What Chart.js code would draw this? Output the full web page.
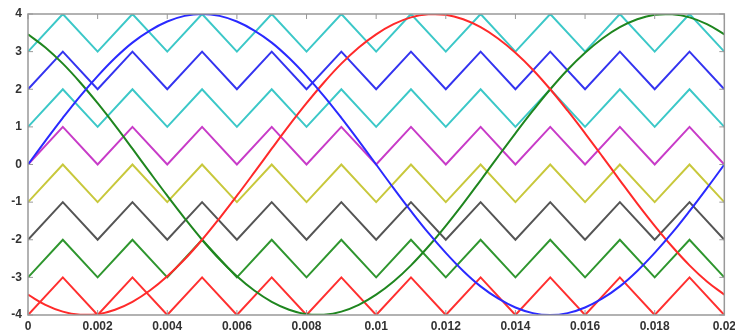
<!DOCTYPE html>
<html>
<head>
<meta charset="utf-8">
<script src="https://cdn.jsdelivr.net/npm/chart.js@4.4.1/dist/chart.umd.min.js"></script>
<style>
  html, body { margin: 0; padding: 0; background: #fff; overflow: hidden; }
  #wrap { width: 735px; height: 335px; overflow: hidden; }
</style>
</head>
<body>
<div id="wrap"><canvas id="c" width="740" height="335"></canvas></div>
<script>
// time axis for the reference sines (every 0.0005 s)
var sineTime = [0, 0.0005, 0.001, 0.0015, 0.002, 0.0025, 0.003, 0.0035, 0.004, 0.0045,
  0.005, 0.0055, 0.006, 0.0065, 0.007, 0.0075, 0.008, 0.0085, 0.009, 0.0095,
  0.01, 0.0105, 0.011, 0.0115, 0.012, 0.0125, 0.013, 0.0135, 0.014, 0.0145,
  0.015, 0.0155, 0.016, 0.0165, 0.017, 0.0175, 0.018, 0.0185, 0.019, 0.0195, 0.02];

var refBlue = [0, 0.63, 1.24, 1.82, 2.35, 2.83, 3.24, 3.56, 3.80, 3.95,
  4.00, 3.95, 3.80, 3.56, 3.24, 2.83, 2.35, 1.82, 1.24, 0.63,
  0, -0.63, -1.24, -1.82, -2.35, -2.83, -3.24, -3.56, -3.80, -3.95,
  -4.00, -3.95, -3.80, -3.56, -3.24, -2.83, -2.35, -1.82, -1.24, -0.63, 0];

var refRed = [-3.46, -3.73, -3.91, -3.99, -3.98, -3.86, -3.65, -3.35, -2.97, -2.52,
  -2.00, -1.43, -0.83, -0.21, 0.42, 1.04, 1.63, 2.18, 2.68, 3.11,
  3.46, 3.73, 3.91, 3.99, 3.98, 3.86, 3.65, 3.35, 2.97, 2.52,
  2.00, 1.43, 0.83, 0.21, -0.42, -1.04, -1.63, -2.18, -2.68, -3.11, -3.46];

var refGreen = [3.46, 3.11, 2.68, 2.18, 1.63, 1.04, 0.42, -0.21, -0.83, -1.43,
  -2.00, -2.52, -2.97, -3.35, -3.65, -3.86, -3.98, -3.99, -3.91, -3.73,
  -3.46, -3.11, -2.68, -2.18, -1.63, -1.04, -0.42, 0.21, 0.83, 1.43,
  2.00, 2.52, 2.97, 3.35, 3.65, 3.86, 3.98, 3.99, 3.91, 3.73, 3.46];

// carrier vertices (every 0.001 s)
var carrierTime = [0, 0.001, 0.002, 0.003, 0.004, 0.005, 0.006, 0.007, 0.008, 0.009, 0.01,
  0.011, 0.012, 0.013, 0.014, 0.015, 0.016, 0.017, 0.018, 0.019, 0.02];

var carrier1 = [3, 4, 3, 4, 3, 4, 3, 4, 3, 4, 3, 4, 3, 4, 3, 4, 3, 4, 3, 4, 3];
var carrier2 = [2, 3, 2, 3, 2, 3, 2, 3, 2, 3, 2, 3, 2, 3, 2, 3, 2, 3, 2, 3, 2];
var carrier3 = [1, 2, 1, 2, 1, 2, 1, 2, 1, 2, 1, 2, 1, 2, 1, 2, 1, 2, 1, 2, 1];
var carrier4 = [0, 1, 0, 1, 0, 1, 0, 1, 0, 1, 0, 1, 0, 1, 0, 1, 0, 1, 0, 1, 0];
var carrier5 = [-1, 0, -1, 0, -1, 0, -1, 0, -1, 0, -1, 0, -1, 0, -1, 0, -1, 0, -1, 0, -1];
var carrier6 = [-2, -1, -2, -1, -2, -1, -2, -1, -2, -1, -2, -1, -2, -1, -2, -1, -2, -1, -2, -1, -2];
var carrier7 = [-3, -2, -3, -2, -3, -2, -3, -2, -3, -2, -3, -2, -3, -2, -3, -2, -3, -2, -3, -2, -3];
var carrier8 = [-4, -3, -4, -3, -4, -3, -4, -3, -4, -3, -4, -3, -4, -3, -4, -3, -4, -3, -4, -3, -4];

var xTickLabels = ['0', '0.002', '0.004', '0.006', '0.008', '0.01', '0.012', '0.014', '0.016', '0.018', '0.02'];
var yTickLabels = ['-4', '-3', '-2', '-1', '0', '1', '2', '3', '4'];

function pts(xs, ys) {
  return ys.map(function(y, i) { return {x: xs[i], y: y}; });
}

function sine(data, color) {
  return {data: pts(sineTime, data), borderColor: color, borderWidth: 2,
    pointRadius: 0, tension: 0.4, fill: false};
}

function carrier(data, color) {
  return {data: pts(carrierTime, data), borderColor: color, borderWidth: 2,
    pointRadius: 0, tension: 0, fill: false};
}

// matlab-ish box with inward ticks
var frame = {
  id: 'frame',
  afterDraw: function(chart) {
    var ctx = chart.ctx, a = chart.chartArea;
    var xs = chart.scales.x, ys = chart.scales.y;
    ctx.save();
    ctx.strokeStyle = '#999';
    ctx.lineWidth = 1.5;
    ctx.strokeRect(a.left, a.top, a.right - a.left, a.bottom - a.top);
    ctx.lineWidth = 1;
    ctx.beginPath();
    xs.ticks.forEach(function(t) {
      var px = xs.getPixelForValue(t.value);
      ctx.moveTo(px, a.bottom); ctx.lineTo(px, a.bottom - 5);
      ctx.moveTo(px, a.top); ctx.lineTo(px, a.top + 5);
    });
    ys.ticks.forEach(function(t) {
      var py = ys.getPixelForValue(t.value);
      ctx.moveTo(a.left, py); ctx.lineTo(a.left + 5, py);
      ctx.moveTo(a.right, py); ctx.lineTo(a.right - 5, py);
    });
    ctx.stroke();
    ctx.restore();
  }
};

var tickFont = {family: 'Liberation Sans', size: 12, weight: 'bold'};

new Chart(document.getElementById('c'), {
  type: 'line',
  data: {
    datasets: [
      sine(refBlue, '#2a2aff'),
      sine(refRed, '#ff2a2a'),
      sine(refGreen, '#1f861f'),
      carrier(carrier1, '#3cc8c8'),
      carrier(carrier2, '#3434f0'),
      carrier(carrier3, '#3cc8c8'),
      carrier(carrier4, '#c83cc8'),
      carrier(carrier5, '#c8c83c'),
      carrier(carrier6, '#555555'),
      carrier(carrier7, '#2f962f'),
      carrier(carrier8, '#ff3030')
    ]
  },
  options: {
    responsive: false,
    animation: false,
    layout: {padding: {left: 0, top: 14, right: 0, bottom: 0}},
    plugins: {legend: {display: false}, tooltip: {enabled: false}},
    scales: {
      x: {
        type: 'linear', min: 0, max: 0.02,
        grid: {display: false, drawTicks: false, tickLength: 0}, border: {display: false},
        afterFit: function(s) { s.height = 20; },
        ticks: {
          stepSize: 0.002, padding: 4, color: '#333', font: tickFont,
          maxRotation: 0,
          callback: function(v, i) { return xTickLabels[i]; }
        }
      },
      y: {
        min: -4, max: 4,
        grid: {display: false, drawTicks: false, tickLength: 0}, border: {display: false},
        afterFit: function(s) { s.width = 28; },
        ticks: {
          stepSize: 1, padding: 6, color: '#333', font: tickFont,
          callback: function(v, i) { return yTickLabels[i]; }
        }
      }
    }
  },
  plugins: [frame]
});
</script>
</body>
</html>
